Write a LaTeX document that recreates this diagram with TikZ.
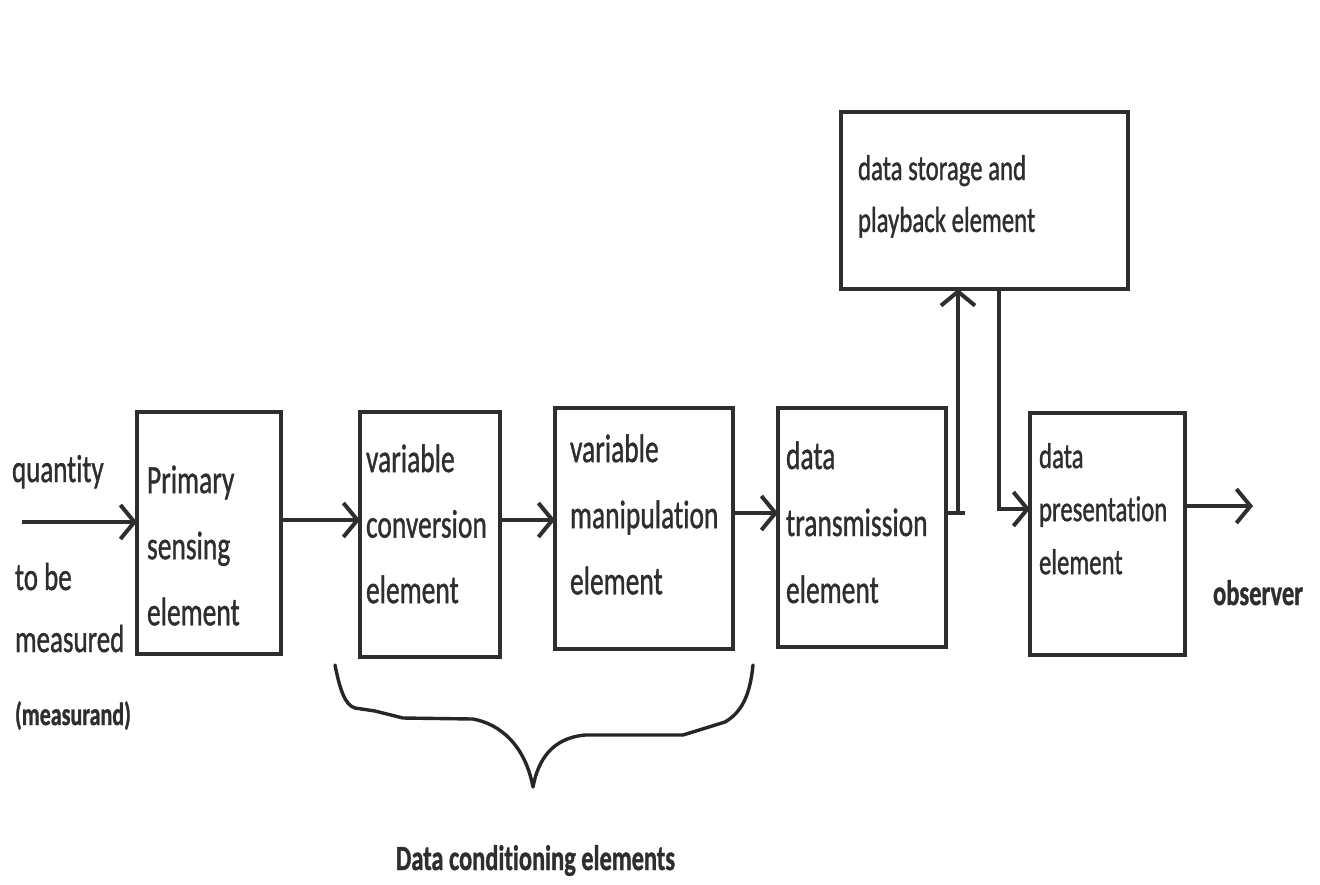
\documentclass[tikz,border=0pt]{standalone}
\usepackage{fontspec}
\setmainfont{Carlito}[Ligatures=NoCommon, RawFeature={embolden=1.2}]
\usepackage{graphicx}
\usetikzlibrary{arrows.meta}
\definecolor{ink}{HTML}{2E2E2E}
\newcommand\sttext[3]{\scalebox{1}[1.45]{\fontsize{#1}{#2}\selectfont\begin{tabular}[t]{@{}l@{}}#3\end{tabular}}}
\begin{document}
\begin{tikzpicture}[x=0.5pt,y=-0.5pt,
  blk/.style 2 args={draw=ink, line width=1.7pt, rectangle, anchor=north west, inner sep=0pt, outer sep=0pt, minimum width=#1*0.5pt, minimum height=#2*0.5pt},
  lbl/.style={anchor=base west, inner sep=0pt, outer sep=0pt, text=ink},
  arr/.style={draw=ink, line width=1.7pt, -{Straight Barb[length=7pt,width=17pt,line width=2pt]}},
  ln/.style={draw=ink, line width=1.7pt},
  brace/.style={draw=black!85, line width=1.7pt, line join=round, line cap=round}]
\fill[white] (0,0) rectangle (1320,884);
\useasboundingbox (0,0) rectangle (1320,884);

% boxes
\node[blk={144}{242}] (ps) at (137,412) {};
\node[blk={140}{245}] (vc) at (360,412) {};
\node[blk={178}{241}] (vm) at (555,408) {};
\node[blk={168}{239}] (dt) at (778,408) {};
\node[blk={287}{177}] (ds) at (841,112) {};
\node[blk={155}{242}] (dp) at (1030,413) {};

% box texts
\node[lbl] (tps) at (147,493) {\sttext{13.75pt}{22.8pt}{Primary\\sensing\\element}};
\node[lbl] (tvc) at (366,472) {\sttext{13.75pt}{22.6pt}{variable\\conversion\\element}};
\node[lbl] (tvm) at (570,462) {\sttext{13.75pt}{22.8pt}{variable\\manipulation\\element}};
\node[lbl] (tdt) at (786,469) {\sttext{13.75pt}{23.1pt}{data\\transmission\\element}};
\node[lbl] (tds) at (858,180) {\sttext{12.4pt}{17.9pt}{data storage and\\playback element}};
\node[lbl] (tdp) at (1039,468) {\sttext{12.4pt}{18.3pt}{data\\presentation\\element}};

% outer labels
\node[lbl] (q1) at (12,482) {\sttext{13.5pt}{16pt}{quantity}};
\node[lbl] (q2) at (15,590) {\sttext{13.5pt}{16pt}{to be}};
\node[lbl] (q3) at (15,652) {\sttext{13.5pt}{16pt}{measured}};
\node[lbl] (q4) at (15,725) {\sttext{11pt}{13pt}{\bfseries (measurand)}};
\node[lbl] (tobs) at (1213,605) {\sttext{12.3pt}{14pt}{\bfseries observer}};
\node[lbl] (tdc) at (396,870) {\sttext{12.2pt}{14pt}{\bfseries Data conditioning elements}};

% connectors
\coordinate (src) at (22,522);
\coordinate (y1) at (0,520);
\coordinate (y2) at (0,513);
\coordinate (y3) at (0,509);
\coordinate (up) at (958,0);
\coordinate (stub) at (965,513);
\coordinate (dn) at (999,0);
\coordinate (obs) at (1253,506);

\draw[arr] (src) -- (ps.west |- src);
\draw[arr] (ps.east |- y1) -- (vc.west |- y1);
\draw[arr] (vc.east |- y1) -- (vm.west |- y1);
\draw[arr] (vm.east |- y2) -- (dt.west |- y2);
\draw[arr] (dt.east |- y2) -| (up |- ds.south);
\draw[ln] (up |- y2) -- (stub);
\draw[arr] (dn |- ds.south) |- (dp.west |- y3);
\draw[arr] (dp.east |- obs) -- (obs);

% brace
\draw[brace] (335,665) .. controls (340,690) and (345,705) .. (355,708)
  -- (375,711) -- (403,718) -- (473,719)
  .. controls (500,724) and (525,745) .. (533,787)
  .. controls (538,760) and (552,738) .. (585,735)
  -- (683,735) -- (725,722)
  .. controls (742,712) and (750,695) .. (753,665);
\end{tikzpicture}
\end{document}
